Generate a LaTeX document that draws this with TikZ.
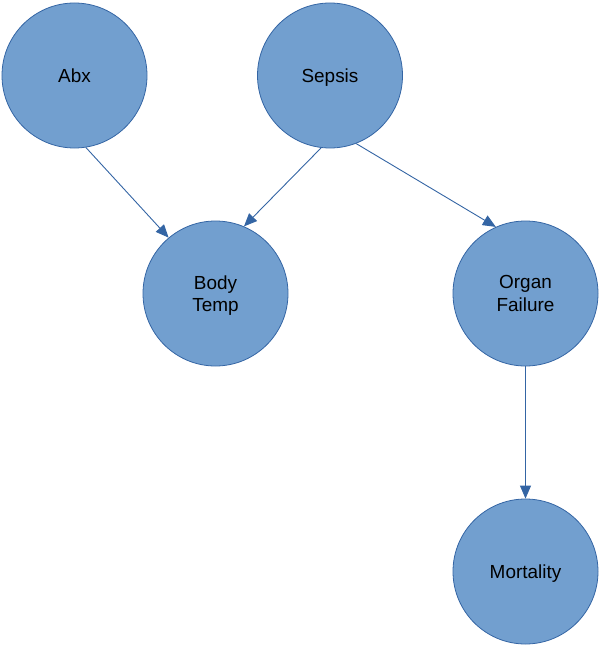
\documentclass[tikz,border=0pt]{standalone}
\usepackage{fontspec}
\setmainfont{Liberation Sans}
\usetikzlibrary{arrows.meta}
\definecolor{nodefill}{HTML}{729FCF}
\definecolor{nodeline}{HTML}{3465A4}
\tikzset{
  font={\fontsize{19}{22.5}\selectfont},
  var/.style={circle, draw=nodeline, fill=nodefill, line width=0.8bp,
    minimum size=145bp, inner sep=0pt, align=center, text depth=0pt},
  edge/.style={draw=nodeline, line width=0.9bp,
    -{Triangle[length=13bp,width=11bp]}}}
\begin{document}
\begin{tikzpicture}[x=1bp,y=1bp]
\useasboundingbox (0,0) rectangle (602,-650);
\node [var] (abx) at (74.5,-75.5) {Abx};
\node [var] (sepsis) at (330,-75.5) {Sepsis};
\node [var] (temp) at (215.5,-293.5) {Body\\Temp};
\node [var] (organ) at (525.5,-293.5) {Organ\\Failure};
\node [var] (mort) at (525.5,-571.5) {Mortality};
\draw [edge] (abx.-81.6) -- (temp.130.6);
\draw [edge] (sepsis.-97.4) -- (temp.67);
\draw [edge] (sepsis.-69.8) -- (organ.114);
\draw [edge] (organ.south) -- (mort.north);
\end{tikzpicture}
\end{document}
